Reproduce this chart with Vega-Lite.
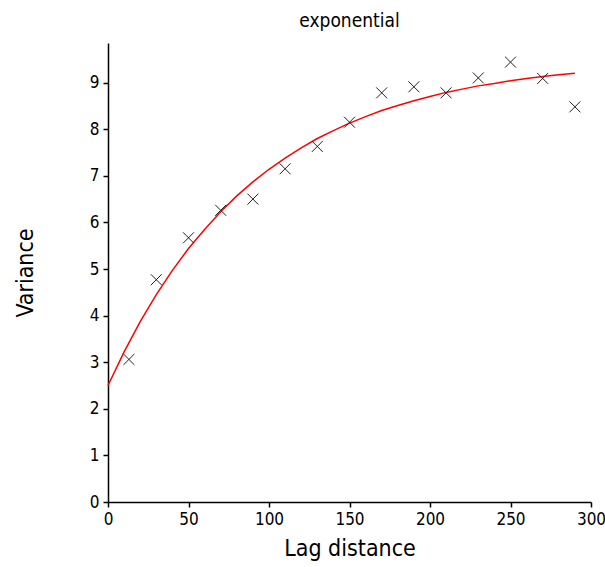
{
  "$schema": "https://vega.github.io/schema/vega-lite/v6.json",
  "autosize": {"type": "none"},
  "padding": {"left": 108, "top": 43, "right": 14, "bottom": 65},
  "width": 483,
  "height": 459,
  "background": "white",
  "title": {"text": "exponential", "anchor": "middle", "fontSize": 19, "fontWeight": "normal", "font": "DejaVu Sans Condensed, sans-serif", "color": "black", "offset": 12},
  "config": {
    "view": {"stroke": null},
    "axis": {
      "domainColor": "black", "domainWidth": 1.5, "tickColor": "black", "tickWidth": 1.5, "tickSize": 5,
      "labelColor": "black", "labelFont": "DejaVu Sans Condensed, sans-serif", "labelFontSize": 17, "labelFlush": false, "labelOverlap": false,
      "titleColor": "black", "titleFont": "DejaVu Sans Condensed, sans-serif", "titleFontSize": 23, "titleFontWeight": "normal",
      "grid": false
    }
  },
  "datasets": {
    "obs": [
      {"lag": 13, "variance": 3.06},
      {"lag": 30, "variance": 4.77},
      {"lag": 50, "variance": 5.67},
      {"lag": 70, "variance": 6.26},
      {"lag": 90, "variance": 6.5},
      {"lag": 110, "variance": 7.15},
      {"lag": 130, "variance": 7.63},
      {"lag": 150, "variance": 8.15},
      {"lag": 170, "variance": 8.78},
      {"lag": 190, "variance": 8.91},
      {"lag": 210, "variance": 8.78},
      {"lag": 230, "variance": 9.1},
      {"lag": 250, "variance": 9.44},
      {"lag": 270, "variance": 9.09},
      {"lag": 290, "variance": 8.48}
    ],
    "fit": [
      {"lag": 0, "variance": 2.5},
      {"lag": 10, "variance": 3.22},
      {"lag": 20, "variance": 3.87},
      {"lag": 30, "variance": 4.45},
      {"lag": 40, "variance": 4.97},
      {"lag": 50, "variance": 5.44},
      {"lag": 60, "variance": 5.85},
      {"lag": 70, "variance": 6.23},
      {"lag": 80, "variance": 6.57},
      {"lag": 90, "variance": 6.87},
      {"lag": 100, "variance": 7.14},
      {"lag": 110, "variance": 7.38},
      {"lag": 120, "variance": 7.6},
      {"lag": 130, "variance": 7.8},
      {"lag": 140, "variance": 7.97},
      {"lag": 150, "variance": 8.13},
      {"lag": 160, "variance": 8.27},
      {"lag": 170, "variance": 8.4},
      {"lag": 180, "variance": 8.51},
      {"lag": 190, "variance": 8.61},
      {"lag": 200, "variance": 8.7},
      {"lag": 210, "variance": 8.79},
      {"lag": 220, "variance": 8.86},
      {"lag": 230, "variance": 8.93},
      {"lag": 240, "variance": 8.98},
      {"lag": 250, "variance": 9.04},
      {"lag": 260, "variance": 9.09},
      {"lag": 270, "variance": 9.13},
      {"lag": 280, "variance": 9.17},
      {"lag": 290, "variance": 9.2}
    ]
  },
  "layer": [
    {
      "data": {"name": "fit"},
      "mark": {"type": "line", "color": "#ff0000", "strokeWidth": 1.5},
      "encoding": {
        "x": {"field": "lag", "type": "quantitative", "scale": {"domain": [0, 300], "nice": false}, "axis": {"title": "Lag distance", "values": [0, 50, 100, 150, 200, 250, 300], "titlePadding": 10, "labelPadding": 4}},
        "y": {"field": "variance", "type": "quantitative", "scale": {"domain": [0, 9.85], "nice": false}, "axis": {"title": "Variance", "values": [0, 1, 2, 3, 4, 5, 6, 7, 8, 9], "titlePadding": 52, "labelPadding": 4}}
      }
    },
    {
      "data": {"name": "obs"},
      "mark": {"type": "point", "shape": "M-1,-1L1,1M1,-1L-1,1", "filled": false, "stroke": "#222222", "strokeWidth": 1, "size": 120, "opacity": 1},
      "encoding": {
        "x": {"field": "lag", "type": "quantitative"},
        "y": {"field": "variance", "type": "quantitative"}
      }
    }
  ]
}
